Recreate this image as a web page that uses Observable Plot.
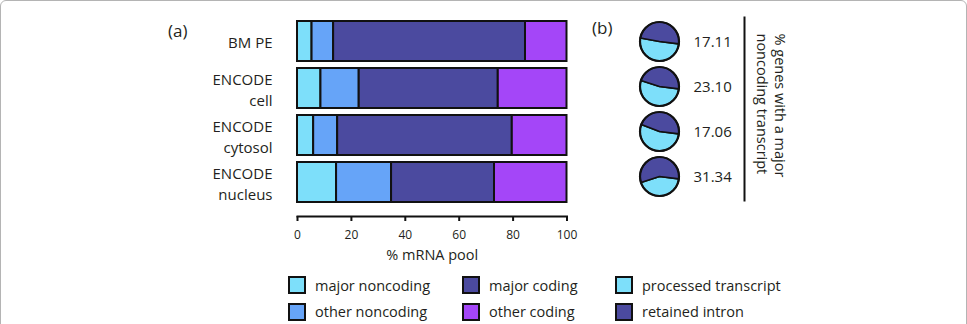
<!DOCTYPE html>
<html>
<head>
<meta charset="utf-8">
<script src="https://cdn.jsdelivr.net/npm/d3@7"></script>
<script src="https://cdn.jsdelivr.net/npm/@observablehq/plot@0.6"></script>
<style>
  html, body { margin: 0; padding: 0; background: #fff; }
  #fig { position: relative; width: 967px; height: 324px; overflow: hidden; background: #fff;
         font-family: "Open Sans", sans-serif; color: #231f20; }
  #edge { position: absolute; left: 0; top: 0; width: 965px; height: 340px;
          border: 1px solid #b4b4b4; border-radius: 6px; pointer-events: none; }
  .panel { position: absolute; }
  .tag { position: absolute; font-size: 17px; line-height: 20px; }
  #legend { position: absolute; left: 288px; top: 276px; display: grid;
            grid-template-columns: 174px 153px auto; grid-auto-rows: 18px; row-gap: 8.5px;
            grid-auto-flow: column; grid-template-rows: 18px 18px; font-size: 14.5px; }
  .item { display: flex; align-items: center; white-space: nowrap; }
  .sw { width: 14px; height: 14px; border: 2px solid #111; margin-right: 9px; flex: none; }
</style>
</head>
<body>
<div id="fig">
  <div id="edge"></div>
  <div class="tag" style="left:168px; top:21px;">(a)</div>
  <div class="tag" style="left:592px; top:18px;">(b)</div>
  <div class="panel" id="bars" style="left:0; top:0;"></div>
  <div class="panel" id="pies" style="left:580px; top:0;"></div>
  <div id="legend"></div>
</div>
<script>
// Samples and their two-line labels
const samples = ["BM PE", "ENCODE cell", "ENCODE cytosol", "ENCODE nucleus"];
const sampleLabels = ["BM PE", "ENCODE\ncell", "ENCODE\ncytosol", "ENCODE\nnucleus"];

// Composition of the mRNA pool (%), one value per sample
const poolTypes = ["major noncoding", "other noncoding", "major coding", "other coding"];
const majorNoncoding = [5.4, 8.7, 6.0, 14.5];
const otherNoncoding = [8.0, 14.2, 8.9, 20.4];
const majorCoding = [71.2, 51.6, 64.8, 38.2];
const otherCoding = [15.4, 25.5, 20.3, 26.9];
const poolColors = ["#7ddffa", "#66a4f8", "#4b4a9f", "#a446f8"];
const xTicks = [0, 20, 40, 60, 80, 100];

// Genes with a major noncoding transcript (%), and its biotype split (%)
const pctMajorNoncoding = [17.11, 23.10, 17.06, 31.34];
const transcriptTypes = ["processed transcript", "retained intron"];
const processedTranscript = [51, 53, 54, 43];
const retainedIntron = [49, 47, 46, 57];
const transcriptColors = ["#7ddffa", "#4b4a9f"];

const ink = "#231f20";

// Long table for the stacked bars
const series = [majorNoncoding, otherNoncoding, majorCoding, otherCoding];
const pool = [];
samples.forEach((s, i) => poolTypes.forEach((t, j) => pool.push({sample: s, type: t, value: series[j][i]})));

const bars = Plot.plot({
  width: 600,
  height: 270,
  marginLeft: 297,
  marginRight: 33.5,
  marginTop: 16.7,
  marginBottom: 54,
  style: {fontFamily: "Open Sans, sans-serif", color: ink, background: "transparent", overflow: "visible"},
  x: {domain: [0, 100], axis: null},
  y: {domain: samples, paddingInner: 0.14, paddingOuter: 0.07, insetBottom: 9.3, axis: null},
  color: {domain: poolTypes, range: poolColors},
  marks: [
    Plot.barX(pool, {x: "value", y: "sample", fill: "type", stroke: "#111", strokeWidth: 2}),
    Plot.text(samples, {y: d => d, text: (d, i) => sampleLabels[i], frameAnchor: "left", dx: -25,
      textAnchor: "end", lineAnchor: "middle", lineHeight: 1.4, fontSize: 15, fill: ink}),
    Plot.axisX({ticks: xTicks, tickSize: 5, tickPadding: 8.7, fontSize: 12, strokeWidth: 2,
      stroke: "#111", label: null, color: ink}),
    Plot.frame({anchor: "bottom", stroke: "#111", strokeWidth: 2}),
    Plot.text(["% mRNA pool"], {text: d => d, frameAnchor: "bottom", dy: 39, lineAnchor: "middle",
      fontSize: 14.5, fill: ink})
  ]
});
document.getElementById("bars").append(bars);

// Pie glyph per sample: processed transcript vs retained intron
const pieRadius = 19.5;
const pieStart = 97 * Math.PI / 180;
const pieLayout = d3.pie().sort(null).startAngle(pieStart).endAngle(pieStart + 2 * Math.PI);
const arc = d3.arc().innerRadius(0).outerRadius(pieRadius);

function pieGlyphs(index, scales, values, dimensions) {
  const y = scales.y;
  const bw = y.bandwidth ? y.bandwidth()
    : (dimensions.height - dimensions.marginTop - dimensions.marginBottom) / samples.length;
  const cx = dimensions.marginLeft + pieRadius + 1;
  const g = d3.create("svg:g");
  samples.forEach((s, i) => {
    const slices = pieLayout([processedTranscript[i], retainedIntron[i]]);
    const pg = g.append("g").attr("transform", `translate(${cx},${y(s) + bw / 2})`);
    pg.selectAll("path").data(slices).join("path")
      .attr("d", arc)
      .attr("fill", (d, j) => transcriptColors[j])
      .attr("stroke", "#111")
      .attr("stroke-width", 1.6)
      .attr("stroke-linejoin", "round");
    pg.append("circle").attr("r", pieRadius).attr("fill", "none")
      .attr("stroke", "#111").attr("stroke-width", 2.2);
  });
  return g.node();
}

const pies = Plot.plot({
  width: 220,
  height: 210,
  marginLeft: 59,
  marginRight: 56,
  marginTop: 17,
  marginBottom: 10,
  style: {fontFamily: "Open Sans, sans-serif", color: ink, background: "transparent", overflow: "visible"},
  y: {type: "band", domain: samples, padding: 0, axis: null},
  marks: [
    Plot.text(samples, {y: d => d, text: (d, i) => d3.format(".2f")(pctMajorNoncoding[i]),
      frameAnchor: "left", dx: 54, textAnchor: "start", lineAnchor: "middle", fontSize: 15, fill: ink}),
    pieGlyphs,
    Plot.frame({anchor: "right", stroke: "#111", strokeWidth: 2}),
    Plot.text(["% genes with a major\nnoncoding transcript"], {text: d => d, frameAnchor: "top-right",
      dx: 27, dy: 16, rotate: 90, textAnchor: "start", lineAnchor: "middle", lineHeight: 1.24,
      fontSize: 14.5, fill: ink})
  ]
});
document.getElementById("pies").append(pies);

// Legend: bar segment types, then pie slice types
const legendLabels = poolTypes.concat(transcriptTypes);
const legendColors = poolColors.concat(transcriptColors);
const legend = d3.select("#legend");
legendLabels.forEach((label, i) => {
  const item = legend.append("div").attr("class", "item");
  item.append("div").attr("class", "sw").style("background", legendColors[i]);
  item.append("span").text(label);
});
</script>
</body>
</html>
